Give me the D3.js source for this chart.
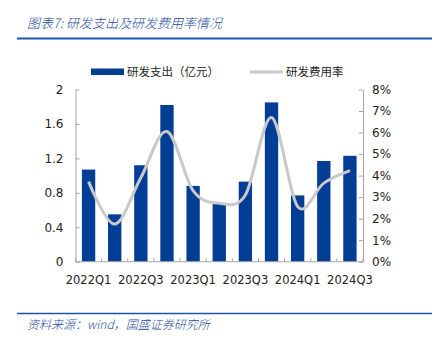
<!DOCTYPE html>
<html><head><meta charset="utf-8">
<script src="https://cdn.jsdelivr.net/npm/d3@7"></script>
<style>body{margin:0;background:#fff;} svg{display:block;}</style>
</head><body>
<svg id="c" width="437" height="339"></svg>
<script>
const categories = ["2022Q1","2022Q2","2022Q3","2022Q4","2023Q1","2023Q2","2023Q3","2023Q4","2024Q1","2024Q2","2024Q3"];
const rdSpend = [1.07,0.55,1.12,1.82,0.88,0.68,0.93,1.85,0.77,1.17,1.23];
const rdRate = [3.72,1.75,3.9,6.05,3.3,2.72,3.1,6.7,2.56,3.65,4.23];
const leftTicks = [0,0.4,0.8,1.2,1.6,2];
const rightTicks = [0,1,2,3,4,5,6,7,8];
const xLabels = ["2022Q1","2022Q3","2023Q1","2023Q3","2024Q1","2024Q3"];
const titleText = "图表7:  研发支出及研发费用率情况";
const sourceText = "资料来源：wind，国盛证券研究所";
const legendNames = ["研发支出（亿元）","研发费用率"];

const svg = d3.select("#c");
const L = 75.5, R = 363, T = 89.5, B = 261.7;
const blue = "#023e96", gray = "#c9c9c9", axisCol = "#a6a6a6";
const numFont = "'DejaVu Sans', Verdana, sans-serif";
const cjk = "'Noto Sans CJK SC', sans-serif";

const x = d3.scaleBand().domain(categories).range([L, R]).paddingInner(0.49).paddingOuter(0.245);
const yL = d3.scaleLinear().domain([0, 2]).range([B, T]);
const yR = d3.scaleLinear().domain([0, 8]).range([B, T]);

// Title
svg.append("text").attr("x", 27).attr("y", 28).attr("font-family", cjk).attr("font-style", "italic")
  .attr("font-size", 13).attr("font-weight", 300).attr("fill", "#1f4e9e").text(titleText);
svg.append("line").attr("x1", 17).attr("x2", 432).attr("y1", 38.5).attr("y2", 38.5)
  .attr("stroke", "#1c55b0").attr("stroke-width", 2);

// Bars
svg.append("g").selectAll("rect").data(categories).join("rect")
  .attr("x", d => x(d)).attr("width", x.bandwidth())
  .attr("y", (d, i) => yL(rdSpend[i])).attr("height", (d, i) => B - yL(rdSpend[i]))
  .attr("fill", blue);

// Line
const line = d3.line().x((d, i) => x(categories[i]) + x.bandwidth() / 2).y(d => yR(d)).curve(d3.curveCardinal.tension(0));
svg.append("path").datum(rdRate).attr("d", line).attr("fill", "none").attr("stroke", gray).attr("stroke-width", 3);

// Axes
const gl = svg.append("g").attr("transform", `translate(${L},0)`)
  .call(d3.axisLeft(yL).tickValues(leftTicks).tickFormat(d => d3.format("")(d)).tickSizeInner(-4).tickSizeOuter(0).tickPadding(12));
const gr = svg.append("g").attr("transform", `translate(${R},0)`)
  .call(d3.axisRight(yR).tickValues(rightTicks).tickFormat(d => d + "%").tickSizeInner(-4).tickSizeOuter(0).tickPadding(12));
[gl, gr].forEach(g => {
  g.select(".domain").attr("stroke", axisCol);
  g.selectAll(".tick line").attr("stroke", axisCol);
  g.selectAll("text").attr("font-family", numFont).attr("font-size", 12).attr("fill", "#222");
});
gr.selectAll("text").attr("dx", -3);

const gx = svg.append("g").attr("transform", `translate(0,${B})`);
gx.append("line").attr("x1", L).attr("x2", R).attr("stroke", axisCol);
const step = x.step();
gx.selectAll(".tk").data(d3.range(categories.length + 1)).join("line")
  .attr("x1", i => L + i * step).attr("x2", i => L + i * step).attr("y1", 0).attr("y2", -3.5).attr("stroke", axisCol);
gx.selectAll("text").data(xLabels).join("text")
  .attr("x", d => x(d) + x.bandwidth() / 2).attr("y", 22)
  .attr("text-anchor", "middle").attr("font-family", numFont).attr("font-size", 11.5).attr("fill", "#222").text(d => d);

// Legend
const lg = svg.append("g");
lg.append("rect").attr("x", 91).attr("y", 68.5).attr("width", 33).attr("height", 6.5).attr("fill", blue);
lg.append("text").attr("x", 127).attr("y", 76).attr("font-family", cjk).attr("font-size", 11.5).attr("fill", "#222").text(legendNames[0]);
lg.append("line").attr("x1", 250).attr("x2", 283).attr("y1", 72).attr("y2", 72).attr("stroke", gray).attr("stroke-width", 3);
lg.append("text").attr("x", 286).attr("y", 76).attr("font-family", cjk).attr("font-size", 11.5).attr("fill", "#222").text(legendNames[1]);

// Footer
svg.append("line").attr("x1", 17).attr("x2", 432).attr("y1", 313.5).attr("y2", 313.5)
  .attr("stroke", "#1c55b0").attr("stroke-width", 1.5);
svg.append("text").attr("x", 27).attr("y", 329).attr("font-family", cjk).attr("font-style", "italic")
  .attr("font-size", 12).attr("font-weight", 300).attr("fill", "#1f4e9e").text(sourceText);
</script>
</body></html>
